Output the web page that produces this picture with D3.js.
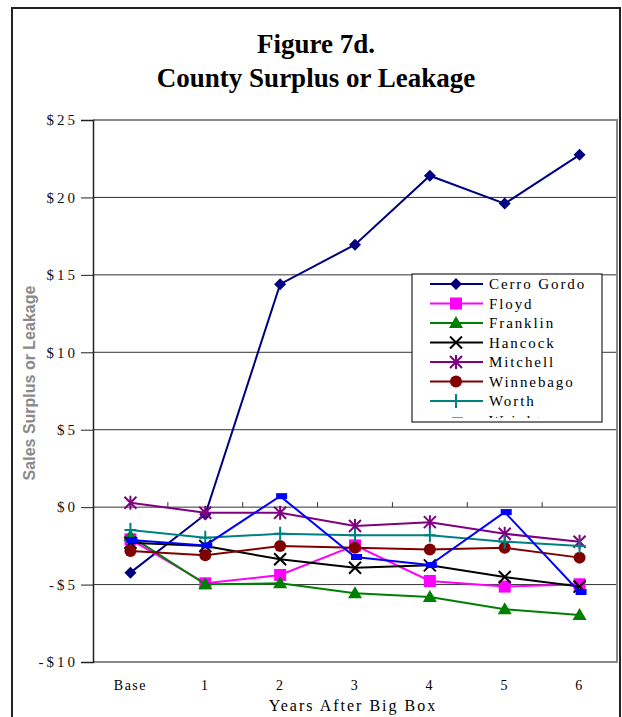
<!DOCTYPE html>
<html>
<head>
<meta charset="utf-8">
<script src="https://d3js.org/d3.v7.min.js"></script>
<style>
  body { margin: 0; background: #fff; }
  text { font-family: "Liberation Serif", "Times New Roman", serif; }
</style>
</head>
<body>
<script>
  // chart data
  var categories = ["Base", "1", "2", "3", "4", "5", "6"];
  var yTicks = [25, 20, 15, 10, 5, 0, -5, -10];
  var counties = ["Cerro Gordo", "Floyd", "Franklin", "Hancock", "Mitchell", "Winnebago", "Worth", "Wright"];
  var cerroGordo = [-4.23, -0.47, 14.4, 16.95, 21.4, 19.6, 22.75];
  var floyd      = [-2.08, -4.92, -4.38, -2.47, -4.77, -5.13, -4.98];
  var franklin   = [-1.87, -4.98, -4.92, -5.56, -5.8, -6.59, -6.96];
  var hancock    = [-2.3, -2.51, -3.37, -3.91, -3.76, -4.51, -5.13];
  var mitchell   = [0.28, -0.36, -0.36, -1.22, -0.97, -1.72, -2.23];
  var winnebago  = [-2.83, -3.11, -2.51, -2.62, -2.73, -2.62, -3.26];
  var worth      = [-1.48, -1.97, -1.72, -1.82, -1.82, -2.23, -2.51];
  var wright     = [-2.12, -2.47, 0.71, -3.22, -3.74, -0.32, -5.48];

  var seriesValues = [cerroGordo, floyd, franklin, hancock, mitchell, winnebago, worth, wright];
  var colors = ["#000080", "#ff00ff", "#008000", "#000000", "#800080", "#800000", "#008080", "#0000ff"];
  var markers = ["diamond", "square", "triangle", "x", "star", "circle", "plus", "dash"];

  var series = counties.map(function(name, i) {
    return {name: name, values: seriesValues[i], color: colors[i], marker: markers[i]};
  });

  var W = 622, H = 717;
  var plot = {left: 93, right: 617, top: 120, bottom: 662};

  var svg = d3.select("body").append("svg")
      .attr("width", W)
      .attr("height", H);

  // outer frame
  svg.append("path")
      .attr("d", "M12,717 V8 H620 V717")
      .attr("fill", "none")
      .attr("stroke", "#222")
      .attr("stroke-width", 2);

  // title
  svg.append("text")
      .attr("x", 316).attr("y", 53)
      .attr("text-anchor", "middle")
      .style("font-size", "27px").style("font-weight", "bold")
      .text("Figure 7d.");
  svg.append("text")
      .attr("x", 316).attr("y", 87)
      .attr("text-anchor", "middle")
      .style("font-size", "27px").style("font-weight", "bold")
      .text("County Surplus or Leakage");

  var x = d3.scaleBand()
      .domain(categories)
      .range([plot.left, plot.right]);

  var y = d3.scaleLinear()
      .domain([-10, 25])
      .range([plot.bottom, plot.top]);

  // gridlines
  svg.append("g")
      .selectAll("line")
      .data(yTicks.filter(function(d) { return d > -10 && d < 25; }))
      .enter().append("line")
      .attr("x1", plot.left).attr("x2", plot.right)
      .attr("y1", function(d) { return y(d); })
      .attr("y2", function(d) { return y(d); })
      .attr("stroke", "#333")
      .attr("stroke-width", 1);

  // plot border top/bottom/right
  svg.append("path")
      .attr("d", "M" + plot.left + "," + plot.top + " H" + plot.right + " V" + plot.bottom + " H" + plot.left)
      .attr("fill", "none")
      .attr("stroke", "#888")
      .attr("stroke-width", 2);

  // y axis
  var yAxis = svg.append("g")
      .attr("transform", "translate(" + plot.left + ",0)")
      .call(d3.axisLeft(y).tickValues(yTicks).tickSize(12).tickPadding(6)
        .tickFormat(function(d) { return (d < 0 ? "-$" : "$") + Math.abs(d); }));
  yAxis.select(".domain").attr("stroke", "#222").attr("stroke-width", 1.5);
  yAxis.selectAll("line").attr("stroke", "#222");
  yAxis.selectAll("text")
      .style("font-family", "'Liberation Serif', serif")
      .style("font-size", "15px")
      .style("letter-spacing", "3px")
      .attr("dx", "3px")
      .attr("fill", "#111");

  // category tick marks at the $0 line
  svg.append("g")
      .selectAll("line")
      .data(categories.slice(1))
      .enter().append("line")
      .attr("x1", function(d) { return x(d); })
      .attr("x2", function(d) { return x(d); })
      .attr("y1", y(0)).attr("y2", y(0) - 5)
      .attr("stroke", "#333");

  // category labels at the bottom
  svg.append("g")
      .selectAll("text")
      .data(categories)
      .enter().append("text")
      .attr("x", function(d) { return x(d) + x.bandwidth() / 2; })
      .attr("y", 690)
      .attr("text-anchor", "middle")
      .style("font-size", "14px")
      .style("letter-spacing", "1.5px")
      .text(function(d) { return d; });

  svg.append("text")
      .attr("x", 353).attr("y", 711)
      .attr("text-anchor", "middle")
      .style("font-size", "16px")
      .style("letter-spacing", "2px")
      .text("Years After Big Box");

  svg.append("text")
      .attr("transform", "translate(35,383) rotate(-90)")
      .attr("text-anchor", "middle")
      .style("font-family", "'Liberation Sans Narrow', 'Liberation Sans', Arial, sans-serif")
      .style("font-size", "16px")
      .style("font-weight", "bold")
      .attr("fill", "#8a8a8a")
      .text("Sales Surplus or Leakage");

  function drawMarker(g, type, color) {
    if (type === "diamond") {
      g.append("path").attr("d", "M0,-6 L6,0 L0,6 L-6,0Z").attr("fill", color);
    } else if (type === "square") {
      g.append("rect").attr("x", -6).attr("y", -6).attr("width", 12).attr("height", 12).attr("fill", color);
    } else if (type === "triangle") {
      g.append("path").attr("d", "M0,-7 L7,5 L-7,5Z").attr("fill", color);
    } else if (type === "circle") {
      g.append("circle").attr("r", 6).attr("fill", color);
    } else if (type === "x") {
      g.append("path").attr("d", "M-6,-6 L6,6 M-6,6 L6,-6").attr("stroke", color).attr("stroke-width", 2);
    } else if (type === "star") {
      g.append("path").attr("d", "M-6,-6 L6,6 M-6,6 L6,-6 M0,-7 V7").attr("stroke", color).attr("stroke-width", 2);
    } else if (type === "plus") {
      g.append("path").attr("d", "M0,-7 V7 M-6,0 H6").attr("stroke", color).attr("stroke-width", 2);
    } else if (type === "dash") {
      g.append("rect").attr("x", -4).attr("y", -3).attr("width", 11).attr("height", 6).attr("fill", color);
    }
  }

  var line = d3.line()
      .x(function(d, i) { return x(categories[i]) + x.bandwidth() / 2; })
      .y(function(d) { return y(d); });

  series.forEach(function(s) {
    var g = svg.append("g");
    g.append("path")
        .datum(s.values)
        .attr("d", line)
        .attr("fill", "none")
        .attr("stroke", s.color)
        .attr("stroke-width", 2);
    s.values.forEach(function(v, i) {
      var m = g.append("g")
          .attr("transform", "translate(" + (x(categories[i]) + x.bandwidth() / 2) + "," + y(v) + ")");
      drawMarker(m, s.marker, s.color);
    });
  });

  // legend (last entry is cut off by the box, as in the original)
  var lg = {x: 412, y: 274, w: 190, h: 148};
  svg.append("clipPath").attr("id", "legclip")
      .append("rect").attr("x", lg.x).attr("y", lg.y).attr("width", lg.w).attr("height", lg.h - 4);
  svg.append("rect")
      .attr("x", lg.x).attr("y", lg.y).attr("width", lg.w).attr("height", lg.h)
      .attr("fill", "#fff").attr("stroke", "#222").attr("stroke-width", 1.2);
  var legend = svg.append("g").attr("clip-path", "url(#legclip)");
  series.forEach(function(s, i) {
    var ly = 284 + i * 19.5;
    var row = legend.append("g").attr("transform", "translate(0," + ly + ")");
    row.append("line")
        .attr("x1", 430).attr("x2", 483)
        .attr("stroke", s.color).attr("stroke-width", 2);
    drawMarker(row.append("g").attr("transform", "translate(456,0)"), s.marker, s.color);
    row.append("text")
        .attr("x", 489).attr("y", 5)
        .style("font-size", "15px")
        .style("letter-spacing", "1.9px")
        .text(s.name);
  });
</script>
</body>
</html>
